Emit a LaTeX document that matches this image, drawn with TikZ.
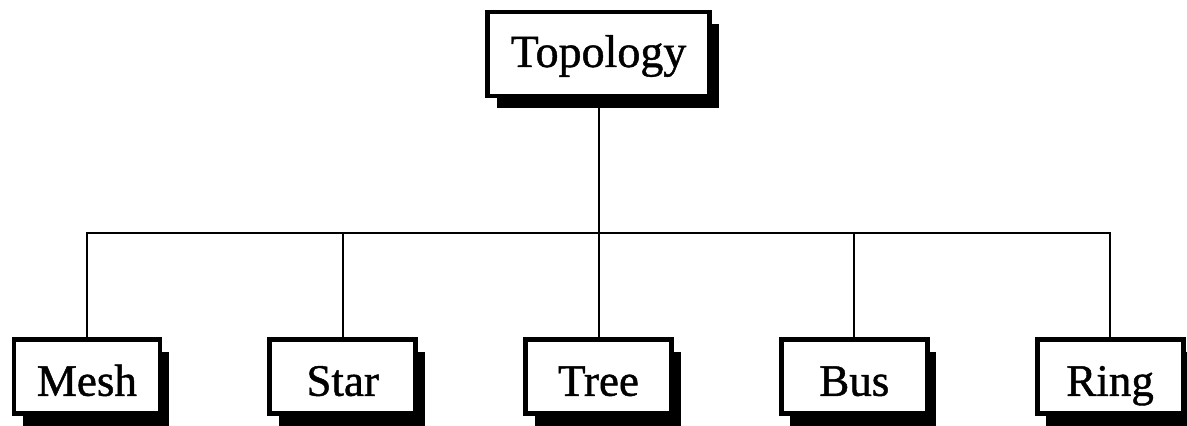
\documentclass[tikz,border=0pt]{standalone}
\usepackage{fontspec}
\setmainfont{Liberation Serif}[FakeBold=1]
\usetikzlibrary{positioning, shadows}

\begin{document}
\begin{tikzpicture}[
    node distance=52.5pt and 52.5pt,
    % Style definitions
    topic/.style={rectangle, minimum width=111pt, minimum height=42pt,
                  text centered, draw=black, line width=2.4pt, fill=white,
                  text height=17pt, text depth=4pt,
                  font=\fontsize{23}{27}\selectfont,
                  drop shadow={shadow xshift=4.5pt, shadow yshift=-6pt, fill=black, opacity=1}},
    leaf/.style={rectangle, minimum width=73pt, minimum height=37pt,
                 text centered, draw=black, line width=2.4pt, fill=white,
                 text height=21pt, text depth=2pt,
                 font=\fontsize{22.5}{27}\selectfont,
                 drop shadow={shadow xshift=4.5pt, shadow yshift=-6pt, fill=black, opacity=1}},
    link/.style={draw=black, line width=1pt},
]
\useasboundingbox (0,0) rectangle (593.5pt,-213pt);

% Root
\node[topic] (topology) at (299.25pt,-27pt) {Topology};
\coordinate[below=67.5pt of topology] (hub);

% Leaves
\node[leaf, below=119.5pt of topology] (tree) {Tree};
\node[leaf, left=of tree] (star) {Star};
\node[leaf, left=of star] (mesh) {Mesh};
\node[leaf, right=of tree] (bus) {Bus};
\node[leaf, right=of bus] (ring) {Ring};

% Connectors
\draw[link] (topology) -- (hub);
\draw[link] (hub) -| (mesh);
\draw[link] (hub) -| (star);
\draw[link] (hub) -- (tree);
\draw[link] (hub) -| (bus);
\draw[link] (hub) -| (ring);

\end{tikzpicture}
\end{document}
